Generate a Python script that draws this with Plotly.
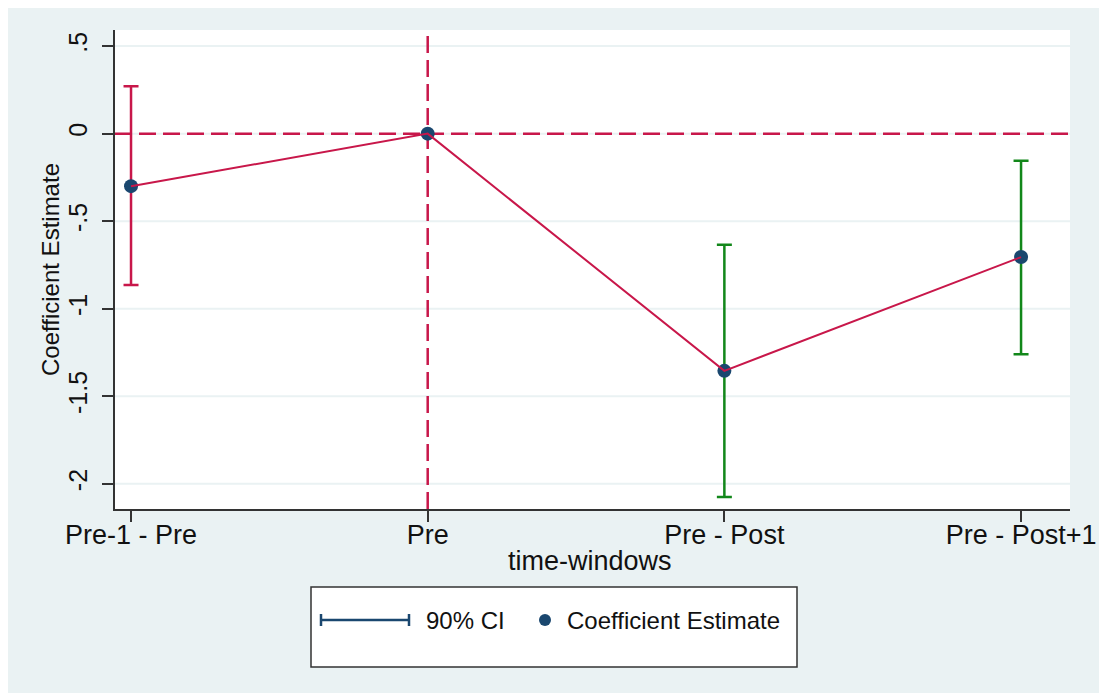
import plotly.graph_objects as go

# ---- data ----
categories = ["Pre-1 - Pre", "Pre", "Pre - Post", "Pre - Post+1"]
estimates = [-0.30, 0.0, -1.355, -0.705]
ci_upper = [0.27, None, -0.635, -0.155]
ci_lower = [-0.865, None, -2.075, -1.26]
ci_colors = ["#c8174a", None, "#12871a", "#12871a"]
y_tickvals = [-2, -1.5, -1, -0.5, 0, 0.5]
y_ticktext = ["-2", "-1.5", "-1", "-.5", "0", ".5"]

RED = "#c8174a"
NAVY = "#1a476f"
BG = "#eaf2f3"
FONT = "Liberation Sans, Arial, sans-serif"

W, H = 1099, 693
# plot area in pixels
L, R, T, B = 115, 1070, 30, 509


def xp(px):
    return (px - L) / (R - L)


def yp(py):
    return (B - py) / (B - T)


fig = go.Figure()

# CI caps
for i, c in enumerate(categories):
    if ci_upper[i] is None:
        continue
    fig.add_trace(go.Scatter(
        x=[c], y=[estimates[i]], mode="markers",
        marker=dict(size=1, opacity=0),
        error_y=dict(type="data", symmetric=False,
                     array=[ci_upper[i] - estimates[i]],
                     arrayminus=[estimates[i] - ci_lower[i]],
                     color=ci_colors[i], thickness=2.5, width=7.5),
        showlegend=False, hoverinfo="skip"))

# markers
fig.add_trace(go.Scatter(
    x=categories, y=estimates, mode="markers",
    marker=dict(size=14, color=NAVY),
    showlegend=False))

# connecting line
fig.add_trace(go.Scatter(
    x=categories, y=estimates, mode="lines",
    line=dict(color=RED, width=2),
    showlegend=False, hoverinfo="skip"))

shapes = [
    # white strips on top and left (outside the graph region)
    dict(type="rect", xref="paper", yref="paper", x0=xp(0), x1=xp(W), y0=yp(8), y1=yp(0),
         fillcolor="white", line=dict(width=0), layer="below"),
    dict(type="rect", xref="paper", yref="paper", x0=xp(0), x1=xp(8), y0=yp(H), y1=yp(0),
         fillcolor="white", line=dict(width=0), layer="below"),
]
# gridlines
for v in y_tickvals:
    shapes.append(dict(type="line", xref="paper", yref="y", x0=0, x1=1, y0=v, y1=v,
                       line=dict(color=BG, width=2), layer="below"))
# reference lines + legend
shapes += [
    dict(type="line", xref="paper", yref="y", x0=0, x1=1, y0=0, y1=0,
         line=dict(color=RED, width=2.5, dash="17px,7px"), layer="below"),
    dict(type="line", xref="x", yref="paper", x0=categories[1], x1=categories[1], y0=0, y1=1,
         line=dict(color=RED, width=2.5, dash="17px,7px"), layer="below"),
    dict(type="rect", xref="paper", yref="paper", x0=xp(311), x1=xp(797), y0=yp(667), y1=yp(587),
         fillcolor="white", line=dict(color="#333333", width=1.5)),
    dict(type="line", xref="paper", yref="paper", x0=xp(320), x1=xp(410), y0=yp(620), y1=yp(620),
         line=dict(color=NAVY, width=2.5)),
    dict(type="line", xref="paper", yref="paper", x0=xp(321), x1=xp(321), y0=yp(626), y1=yp(614),
         line=dict(color=NAVY, width=2.5)),
    dict(type="line", xref="paper", yref="paper", x0=xp(409), x1=xp(409), y0=yp(626), y1=yp(614),
         line=dict(color=NAVY, width=2.5)),
    dict(type="circle", xref="paper", yref="paper", x0=xp(539), x1=xp(551), y0=yp(626), y1=yp(614),
         fillcolor=NAVY, line=dict(color=NAVY, width=0)),
]

annotations = [
    dict(text="90% CI", xref="paper", yref="paper", x=xp(424), y=yp(620),
         xanchor="left", yanchor="middle", showarrow=False,
         font=dict(family=FONT, size=24, color="#111111")),
    dict(text="Coefficient Estimate", xref="paper", yref="paper", x=xp(565), y=yp(620),
         xanchor="left", yanchor="middle", showarrow=False,
         font=dict(family=FONT, size=24, color="#111111")),
    dict(text="time-windows", xref="paper", yref="paper", x=xp(590), y=yp(561),
         xanchor="center", yanchor="middle", showarrow=False,
         font=dict(family=FONT, size=27, color="#111111")),
    dict(text="Coefficient Estimate", xref="paper", yref="paper", x=xp(50), y=yp(270),
         xanchor="center", yanchor="middle", showarrow=False, textangle=-90,
         font=dict(family=FONT, size=24, color="#111111")),
]

fig.update_layout(
    width=W, height=H,
    margin=dict(l=L, r=W - R, t=T, b=H - B, autoexpand=False),
    paper_bgcolor=BG, plot_bgcolor="white",
    showlegend=False, hovermode=False,
    shapes=shapes, annotations=annotations,
    font=dict(family=FONT, color="#111111"),
)

fig.update_xaxes(
    type="category", categoryorder="array", categoryarray=categories,
    range=[-0.054, 3.165], showgrid=False, zeroline=False,
    showline=True, linecolor="#333333", linewidth=1.5,
    ticks="outside", ticklen=11, tickcolor="#333333", tickwidth=1.5,
    ticklabelstandoff=-10,
    tickfont=dict(family=FONT, size=27, color="#111111"),
)

fig.update_yaxes(
    range=[-2.144, 0.592], tickvals=y_tickvals, ticktext=y_ticktext,
    showgrid=False, zeroline=False,
    showline=True, linecolor="#333333", linewidth=1.5,
    ticks="outside", ticklen=11, tickcolor="#333333", tickwidth=1.5,
    ticklabelstandoff=5,
    tickangle=-90, tickfont=dict(family=FONT, size=25, color="#111111"),
)

fig.write_html(
    "out.html",
    config={"displayModeBar": False},
    post_script="document.body.style.margin='0';document.body.style.overflow='hidden';",
)
